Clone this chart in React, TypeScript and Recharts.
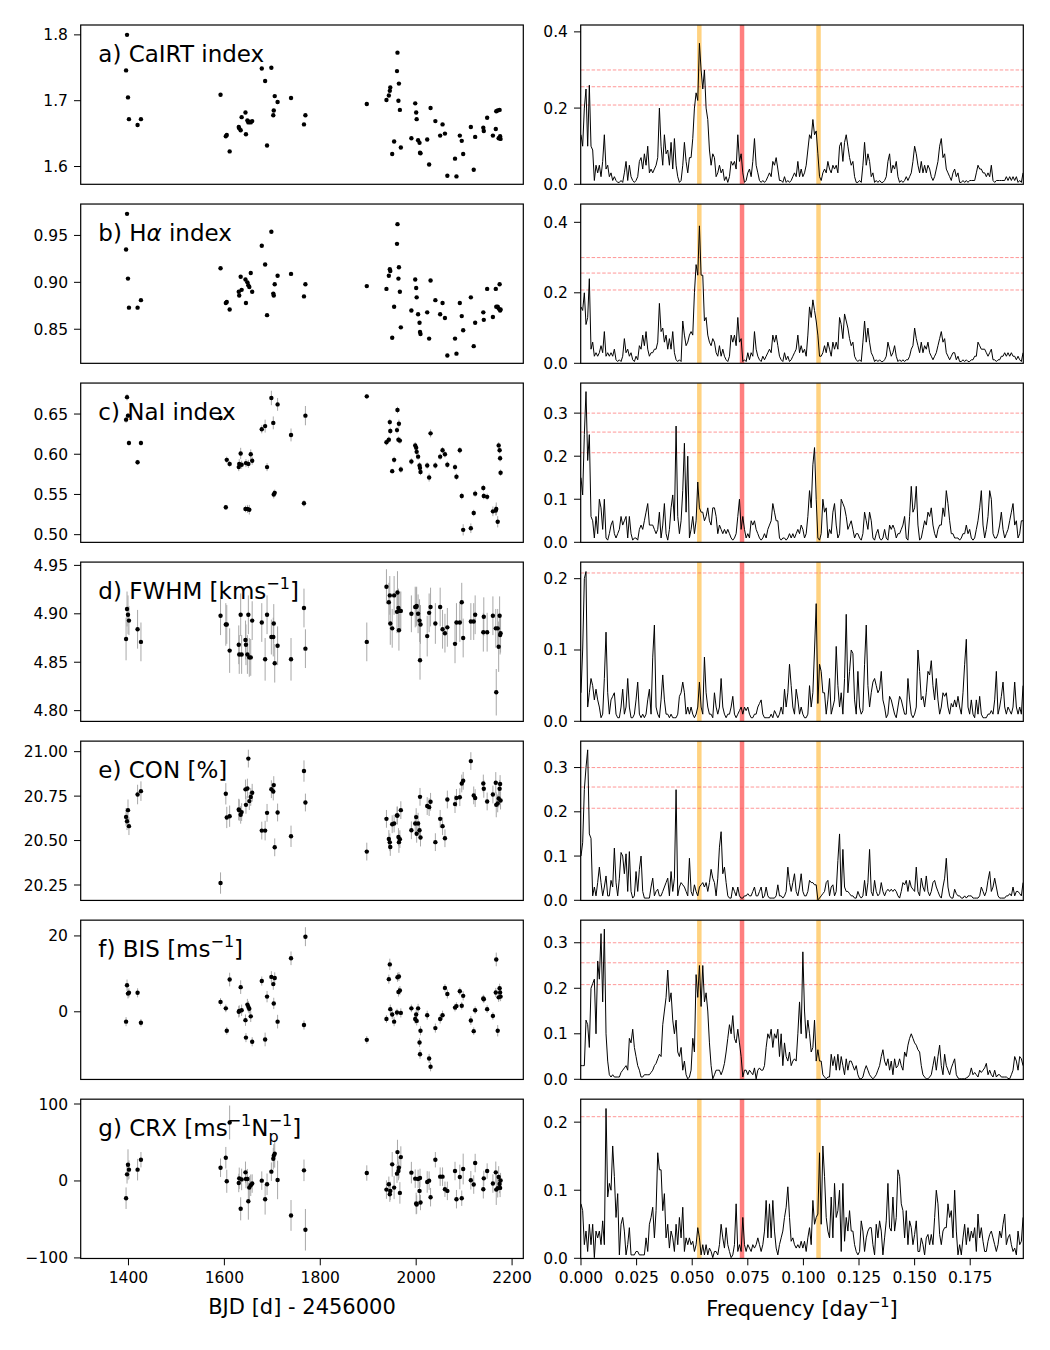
import React from 'react';
import { ScatterChart, Scatter, ErrorBar, LineChart, Line, XAxis, YAxis, ReferenceLine } from 'recharts';

// observation epochs, BJD - 2456000
const TIMES = [
  1395, 1397, 1399, 1401, 1419, 1426,
  1592, 1603, 1605, 1611, 1630, 1631, 1634, 1636, 1644, 1645, 1648, 1650, 1652, 1655, 1658, 1678, 1685, 1689, 1698, 1702,
  1703, 1705, 1711, 1739, 1766, 1769,
  1897, 1938, 1943, 1945, 1946, 1950, 1954, 1960, 1961, 1963, 1964, 1966, 1968, 1990, 1998, 2000, 2001, 2004, 2007, 2008,
  2009, 2023, 2027, 2030, 2040, 2050, 2055, 2060, 2065, 2081, 2084, 2091, 2095, 2098, 2114, 2120, 2123, 2140, 2141, 2148,
  2160, 2166, 2167, 2170, 2172, 2174, 2175, 2176,
];

const CAIRT = [
  1.746, 1.8, 1.705, 1.672, 1.663, 1.672,
  1.709, 1.646, 1.648, 1.623, 1.66, 1.658, 1.655, 1.675, 1.682, 1.649, 1.67, 1.667, 1.668, 1.667, 1.669, 1.749, 1.73, 1.632, 1.75, 1.678,
  1.685, 1.707, 1.698, 1.704, 1.664, 1.678,
  1.695, 1.701, 1.708, 1.715, 1.72, 1.619, 1.638, 1.745, 1.773, 1.7, 1.726, 1.686, 1.629, 1.643, 1.696, 1.682, 1.672, 1.64, 1.636, 1.621,
  1.62, 1.641, 1.603, 1.689, 1.669, 1.647, 1.664, 1.65, 1.586, 1.612, 1.585, 1.647, 1.639, 1.619, 1.66, 1.595, 1.645, 1.659, 1.654, 1.674,
  1.647, 1.657, 1.684, 1.685, 1.643, 1.686, 1.646, 1.642,
];

const HALPHA = [
  0.935, 0.973, 0.904, 0.873, 0.873, 0.881,
  0.915, 0.878, 0.879, 0.871, 0.89, 0.886, 0.906, 0.892, 0.903, 0.878, 0.9, 0.897, 0.895, 0.91, 0.89, 0.939, 0.919, 0.865, 0.954, 0.888,
  0.886, 0.898, 0.907, 0.909, 0.885, 0.898,
  0.896, 0.893, 0.907, 0.914, 0.912, 0.841, 0.874, 0.941, 0.962, 0.904, 0.916, 0.89, 0.852, 0.87, 0.903, 0.894, 0.884, 0.866, 0.857, 0.847,
  0.845, 0.868, 0.84, 0.902, 0.881, 0.866, 0.878, 0.862, 0.822, 0.84, 0.824, 0.878, 0.864, 0.849, 0.884, 0.832, 0.857, 0.868, 0.86, 0.893,
  0.863, 0.893, 0.874, 0.874, 0.872, 0.898, 0.87, 0.871,
];

const NAI = [
  0.643, 0.671, 0.648, 0.614, 0.59, 0.614,
  0.645, 0.534, 0.593, 0.588, 0.584, 0.588, 0.601, 0.587, 0.532, 0.589, 0.532, 0.588, 0.531, 0.6, 0.592, 0.631, 0.635, 0.584, 0.67, 0.639,
  0.55, 0.552, 0.662, 0.624, 0.539, 0.648,
  0.672, 0.615, 0.618, 0.64, 0.629, 0.579, 0.593, 0.63, 0.655, 0.618, 0.638, 0.617, 0.581, 0.591, 0.611, 0.608, 0.603, 0.597, 0.586, 0.583,
  0.578, 0.586, 0.571, 0.626, 0.586, 0.597, 0.605, 0.6, 0.587, 0.584, 0.572, 0.605, 0.548, 0.506, 0.508, 0.527, 0.551, 0.558, 0.548, 0.547,
  0.529, 0.53, 0.532, 0.516, 0.611, 0.605, 0.595, 0.577,
];
const NAI_ERR = [
  0.004, 0.004, 0.003, 0.003, 0.003, 0.003,
  0.003, 0.003, 0.004, 0.004, 0.005, 0.006, 0.007, 0.005, 0.004, 0.005, 0.005, 0.005, 0.006, 0.006, 0.005, 0.005, 0.008, 0.005, 0.009, 0.008,
  0.005, 0.004, 0.008, 0.008, 0.004, 0.012,
  0.003, 0.004, 0.004, 0.004, 0.004, 0.003, 0.004, 0.004, 0.004, 0.004, 0.005, 0.004, 0.004, 0.004, 0.004, 0.004, 0.004, 0.004, 0.004, 0.004,
  0.004, 0.004, 0.005, 0.005, 0.004, 0.004, 0.004, 0.004, 0.004, 0.004, 0.004, 0.004, 0.004, 0.007, 0.006, 0.004, 0.004, 0.004, 0.004, 0.004,
  0.006, 0.006, 0.008, 0.007, 0.004, 0.004, 0.004, 0.004,
];

const FWHM = [
  4.874, 4.905, 4.899, 4.893, 4.884, 4.871,
  4.898, 4.889, 4.889, 4.862, 4.868, 4.858, 4.899, 4.858, 4.873, 4.868, 4.858, 4.899, 4.855, 4.855, 4.893, 4.891, 4.853, 4.899, 4.876, 4.876,
  4.89, 4.849, 4.867, 4.853, 4.906, 4.864,
  4.871, 4.928, 4.912, 4.919, 4.89, 4.885, 4.919, 4.902, 4.922, 4.906, 4.883, 4.903, 4.903, 4.9, 4.907, 4.907, 4.908, 4.9, 4.893, 4.852,
  4.889, 4.877, 4.901, 4.907, 4.89, 4.907, 4.884, 4.88, 4.886, 4.869, 4.891, 4.891, 4.912, 4.875, 4.892, 4.892, 4.899, 4.881, 4.897, 4.881,
  4.898, 4.885, 4.819, 4.885, 4.866, 4.898, 4.878, 4.88,
];
const FWHM_ERR = [
  0.022, 0.018, 0.02, 0.015, 0.02, 0.02,
  0.02, 0.022, 0.02, 0.023, 0.02, 0.02, 0.022, 0.02, 0.02, 0.021, 0.02, 0.02, 0.02, 0.019, 0.02, 0.02, 0.022, 0.02, 0.018, 0.02,
  0.02, 0.02, 0.02, 0.022, 0.02, 0.02,
  0.02, 0.018, 0.02, 0.02, 0.022, 0.02, 0.02, 0.022, 0.022, 0.02, 0.021, 0.02, 0.02, 0.019, 0.021, 0.02, 0.02, 0.02, 0.022, 0.02,
  0.02, 0.021, 0.02, 0.02, 0.021, 0.02, 0.02, 0.02, 0.02, 0.02, 0.02, 0.02, 0.02, 0.02, 0.019, 0.019, 0.02, 0.02, 0.02, 0.02,
  0.02, 0.02, 0.024, 0.02, 0.026, 0.02, 0.02, 0.02,
];

const CON = [
  20.633, 20.609, 20.671, 20.581, 20.759, 20.778,
  20.261, 20.763, 20.63, 20.637, 20.675, 20.671, 20.645, 20.66, 20.788, 20.701, 20.793, 20.961, 20.722, 20.745, 20.769, 20.556, 20.556, 20.656, 20.789, 20.776,
  20.812, 20.462, 20.658, 20.524, 20.891, 20.714,
  20.438, 20.622, 20.509, 20.49, 20.464, 20.592, 20.596, 20.641, 20.641, 20.52, 20.491, 20.508, 20.671, 20.558, 20.596, 20.632, 20.538, 20.596, 20.558, 20.746,
  20.517, 20.694, 20.688, 20.718, 20.491, 20.622, 20.581, 20.513, 20.731, 20.705, 20.74, 20.744, 20.821, 20.836, 20.947, 20.754, 20.739, 20.821, 20.791, 20.72,
  20.759, 20.825, 20.701, 20.709, 20.737, 20.791, 20.818, 20.725,
];
const CON_ERR = [
  0.05, 0.05, 0.06, 0.05, 0.055, 0.055,
  0.06, 0.06, 0.06, 0.06, 0.06, 0.06, 0.05, 0.05, 0.055, 0.05, 0.055, 0.05, 0.05, 0.05, 0.05, 0.05, 0.055, 0.05, 0.05, 0.05,
  0.05, 0.05, 0.05, 0.06, 0.06, 0.05,
  0.05, 0.05, 0.05, 0.05, 0.05, 0.05, 0.05, 0.05, 0.05, 0.05, 0.06, 0.05, 0.05, 0.05, 0.05, 0.05, 0.05, 0.06, 0.05, 0.05,
  0.05, 0.05, 0.05, 0.05, 0.05, 0.05, 0.05, 0.05, 0.05, 0.05, 0.05, 0.05, 0.05, 0.05, 0.05, 0.05, 0.05, 0.05, 0.05, 0.05,
  0.05, 0.06, 0.07, 0.05, 0.05, 0.05, 0.05, 0.05,
];

const BIS = [
  -2.6, 7.0, 4.8, 5.0, 5.0, -2.9,
  2.6, 0.9, -5.0, 8.5, 0, 0.2, 6.5, 0.4, -2.2, -6.8, 1.9, 1.3, 0.8, -1.2, -7.9, 8.1, -7.3, 4.0, 9.2, 7.3,
  2.2, 8.9, -2.6, 14.1, -3.5, 19.8,
  -7.4, -1.9, 8.6, 12.5, 0.7, -0.7, -2.6, -0.2, 9.1, 5.2, 9.3, 5.6, -0.3, 0.9, -1.9, -0.7, -2.4, 0.9, -8.1, -11.2,
  -5.0, -0.9, -12.3, -14.5, -4.3, -1.9, -0.9, 6.3, 4.7, 1.1, 1.5, 5.4, 1.6, 4.2, -2.3, -5.1, 0.4, 3.5, 3.3, 0.7,
  -1.1, 5.1, 13.8, -5.0, 3.8, 6.2, 5.1, 4.0,
];
const BIS_ERR = [
  1.2, 1.5, 1.3, 1.2, 1.2, 1.0,
  1.0, 1.0, 1.0, 1.8, 1.5, 1.5, 1.8, 1.5, 1.5, 1.2, 1.5, 1.5, 1.3, 1.5, 1.2, 1.2, 1.8, 1.5, 1.5, 1.5,
  1.5, 1.5, 1.8, 1.8, 1.2, 2.5,
  1.0, 1.0, 1.2, 1.5, 1.2, 1.2, 1.2, 1.0, 1.2, 1.2, 1.2, 1.2, 1.2, 1.0, 1.2, 1.2, 1.2, 1.2, 1.2, 1.2,
  1.2, 1.2, 1.2, 1.2, 1.2, 1.2, 1.2, 1.0, 1.2, 1.0, 1.0, 1.0, 1.0, 1.2, 1.2, 1.0, 1.0, 1.0, 1.0, 1.0,
  1.0, 1.2, 1.8, 1.5, 1.2, 1.2, 1.2, 1.2,
];

const CRX = [
  -22.4, 8.6, 21.1, 14.7, 14.7, 27.6,
  17.2, 30.2, -0.4, 76, -2.6, 3.4, -36.2, 2.0, 11.2, 2.6, 2.6, -26.3, -8.6, -5.6, -3.4, 0.4, -23.7, -4.3, 12.1, 28.9,
  32.8, 35.3, 1.3, -44.8, 13.8, -63.4,
  10.3, -11.2, -4.3, -17.2, -12.9, 21.6, -8.6, 9.5, 37.5, 12.9, 17.2, -15.5, 31.0, 10.8, 3.0, -29.3, -30.6, 2.6, -12.9, 3.9,
  -28.0, -1.3, 0.4, -21.1, 27.6, 5.6, 5.6, -10.8, -12.9, 12.9, -23.7, 5.2, -22.4, 15.5, 0.9, -4.7, 23.3, -10.8, 3.4, 12.9,
  -3.4, 11.2, -11.2, -9.5, 5.2, -3.9, -9.0, 0.5,
];
const CRX_ERR = [
  14, 12, 20, 12, 14, 10,
  12, 14, 15, 22, 12, 14, 15, 14, 14, 12, 13, 24, 15, 14, 12, 12, 20, 14, 12, 14,
  15, 18, 25, 20, 14, 27,
  10, 12, 10, 10, 12, 16, 15, 12, 16, 12, 14, 14, 14, 14, 12, 14, 12, 12, 12, 12,
  10, 14, 12, 12, 10, 12, 12, 10, 12, 12, 12, 16, 10, 20, 12, 12, 12, 12, 10, 10,
  12, 14, 20, 12, 14, 12, 12, 10,
];

// GLS power on a uniform frequency grid starting at 0 (one row = 0.015 day^-1)
const FREQ_STEP = 0.00075;

const PG_CAIRT = [
  0.13, 0.1, 0.2, 0.25, 0.1, 0.26, 0.1, 0.09, 0.01, 0.05, 0.03, 0.05, 0.02, 0.06, 0.13, 0.04, 0.05, 0.02, 0.03, 0.01,
  0.02, 0.01, 0.005, 0.005, 0.01, 0.005, 0.03, 0.06, 0.01, 0.05, 0.02, 0.01, 0.005, 0.01, 0.02, 0.06, 0.07, 0.04, 0.08, 0.05,
  0.1, 0.03, 0.04, 0.03, 0.04, 0.05, 0.07, 0.2, 0.1, 0.05, 0.13, 0.08, 0.09, 0.05, 0.11, 0.04, 0.12, 0.05, 0.02, 0.005,
  0.01, 0.05, 0.11, 0.06, 0.03, 0.07, 0.07, 0.12, 0.2, 0.24, 0.22, 0.37, 0.3, 0.25, 0.3, 0.2, 0.17, 0.09, 0.05, 0.08,
  0.07, 0.02, 0.03, 0.05, 0.03, 0.04, 0.01, 0.02, 0.005, 0.02, 0.06, 0.05, 0.06, 0.04, 0.13, 0.06, 0.08, 0.03, 0.005, 0.01,
  0.03, 0.04, 0.02, 0.06, 0.12, 0.05, 0.03, 0.01, 0.005, 0.01, 0.005, 0.01, 0.02, 0.03, 0.02, 0.06, 0.05, 0.07, 0.04, 0.01,
  0.01, 0.005, 0.02, 0.005, 0.01, 0.005, 0.01, 0.02, 0.03, 0.02, 0.06, 0.02, 0.04, 0.02, 0.03, 0.05, 0.09, 0.13, 0.12, 0.17,
  0.13, 0.14, 0.08, 0.02, 0.01, 0.03, 0.04, 0.03, 0.06, 0.04, 0.03, 0.05, 0.04, 0.05, 0.03, 0.1, 0.11, 0.06, 0.11, 0.13,
  0.1, 0.07, 0.05, 0.06, 0.02, 0.005, 0.005, 0.01, 0.005, 0.05, 0.11, 0.05, 0.08, 0.06, 0.02, 0.03, 0.005, 0.01, 0.005, 0.01,
  0.005, 0.005, 0.01, 0.02, 0.06, 0.08, 0.03, 0.05, 0.04, 0.06, 0.02, 0.005, 0.01, 0.005, 0.01, 0.02, 0.01, 0.02, 0.03, 0.06,
  0.1, 0.08, 0.05, 0.03, 0.06, 0.03, 0.05, 0.03, 0.05, 0.04, 0.02, 0.01, 0.02, 0.04, 0.06, 0.1, 0.12, 0.07, 0.08, 0.04,
  0.03, 0.02, 0.01, 0.03, 0.04, 0.02, 0.03, 0.005, 0.005, 0.01, 0.005, 0.01, 0.005, 0.01, 0.01, 0.01, 0.01, 0.03, 0.05, 0.04,
  0.04, 0.03, 0.03, 0.02, 0.03, 0.02, 0.05, 0.01, 0.005, 0.01, 0.01, 0.01, 0.01, 0.01, 0.01, 0.02, 0.01, 0.02, 0.01, 0.02,
  0.01, 0.02, 0.005, 0.01, 0.005, 0.03,
];

const PG_HALPHA = [
  0.16, 0.15, 0.2, 0.11, 0.13, 0.24, 0.04, 0.06, 0.02, 0.03, 0.02, 0.03, 0.05, 0.03, 0.09, 0.02, 0.03, 0.02, 0.03, 0.02,
  0.04, 0.01, 0.005, 0.01, 0.005, 0.02, 0.07, 0.03, 0.04, 0.02, 0.03, 0.01, 0.005, 0.02, 0.01, 0.05, 0.04, 0.08, 0.05, 0.09,
  0.04, 0.02, 0.03, 0.03, 0.04, 0.04, 0.06, 0.17, 0.09, 0.1, 0.06, 0.08, 0.04, 0.07, 0.04, 0.09, 0.03, 0.01, 0.005, 0.01,
  0.005, 0.12, 0.08, 0.05, 0.06, 0.08, 0.09, 0.08, 0.2, 0.28, 0.25, 0.39, 0.25, 0.25, 0.12, 0.13, 0.08, 0.06, 0.05, 0.07,
  0.06, 0.03, 0.02, 0.05, 0.02, 0.04, 0.02, 0.01, 0.005, 0.02, 0.08, 0.06, 0.08, 0.05, 0.13, 0.06, 0.07, 0.005, 0.01, 0.005,
  0.03, 0.01, 0.03, 0.02, 0.09, 0.04, 0.02, 0.01, 0.005, 0.02, 0.01, 0.02, 0.03, 0.04, 0.03, 0.08, 0.06, 0.08, 0.05, 0.02,
  0.01, 0.005, 0.03, 0.01, 0.02, 0.005, 0.01, 0.02, 0.03, 0.04, 0.08, 0.03, 0.05, 0.03, 0.04, 0.02, 0.08, 0.16, 0.13, 0.18,
  0.15, 0.12, 0.08, 0.02, 0.02, 0.03, 0.05, 0.03, 0.06, 0.04, 0.02, 0.06, 0.04, 0.06, 0.04, 0.13, 0.11, 0.07, 0.14, 0.12,
  0.1, 0.07, 0.05, 0.06, 0.02, 0.01, 0.005, 0.01, 0.005, 0.06, 0.12, 0.06, 0.1, 0.06, 0.03, 0.02, 0.005, 0.01, 0.005, 0.01,
  0.005, 0.005, 0.01, 0.02, 0.06, 0.04, 0.02, 0.03, 0.05, 0.02, 0.005, 0.01, 0.005, 0.01, 0.005, 0.01, 0.01, 0.02, 0.04, 0.05,
  0.1, 0.07, 0.05, 0.03, 0.06, 0.03, 0.05, 0.04, 0.06, 0.03, 0.02, 0.01, 0.02, 0.03, 0.05, 0.07, 0.09, 0.06, 0.07, 0.03,
  0.02, 0.01, 0.02, 0.03, 0.03, 0.01, 0.02, 0.005, 0.005, 0.01, 0.005, 0.01, 0.005, 0.005, 0.01, 0.01, 0.02, 0.02, 0.06, 0.05,
  0.04, 0.04, 0.04, 0.03, 0.02, 0.03, 0.04, 0.01, 0.01, 0.005, 0.01, 0.01, 0.02, 0.02, 0.03, 0.02, 0.03, 0.02, 0.03, 0.02,
  0.02, 0.01, 0.02, 0.01, 0.005, 0.03,
];

const PG_NAI = [
  0.15, 0.11, 0.25, 0.35, 0.19, 0.25, 0.06, 0.05, 0.01, 0.06, 0.02, 0.1, 0.08, 0.03, 0.1, 0.01, 0.005, 0.02, 0.04, 0.05,
  0.02, 0.01, 0.02, 0.03, 0.06, 0.04, 0.05, 0.06, 0.01, 0.06, 0.02, 0.005, 0.01, 0.01, 0.005, 0.03, 0.04, 0.03, 0.05, 0.07,
  0.09, 0.04, 0.04, 0.04, 0.03, 0.02, 0.03, 0.07, 0.01, 0.04, 0.09, 0.02, 0.005, 0.03, 0.08, 0.11, 0.05, 0.27, 0.06, 0.02,
  0.05, 0.12, 0.23, 0.07, 0.2, 0.01, 0.03, 0.06, 0.02, 0.05, 0.14, 0.08, 0.07, 0.07, 0.05, 0.06, 0.08, 0.05, 0.04, 0.08,
  0.08, 0.06, 0.02, 0.04, 0.03, 0.02, 0.03, 0.02, 0.03, 0.02, 0.01, 0.005, 0.01, 0.02, 0.06, 0.1, 0.03, 0.06, 0.03, 0.01,
  0.02, 0.01, 0.05, 0.04, 0.05, 0.03, 0.02, 0.01, 0.005, 0.01, 0.02, 0.01, 0.03, 0.04, 0.05, 0.09, 0.07, 0.05, 0.05, 0.01,
  0.005, 0.01, 0.01, 0.005, 0.01, 0.02, 0.01, 0.02, 0.01, 0.02, 0.03, 0.02, 0.04, 0.03, 0.01, 0.02, 0.06, 0.12, 0.08, 0.18,
  0.22, 0.1, 0.01, 0.005, 0.02, 0.1, 0.07, 0.08, 0.01, 0.03, 0.02, 0.07, 0.09, 0.04, 0.01, 0.02, 0.1, 0.09, 0.08, 0.06,
  0.03, 0.04, 0.05, 0.03, 0.01, 0.02, 0.02, 0.01, 0.005, 0.02, 0.07, 0.05, 0.03, 0.07, 0.05, 0.01, 0.005, 0.02, 0.03, 0.01,
  0.005, 0.01, 0.03, 0.01, 0.005, 0.04, 0.03, 0.04, 0.03, 0.01, 0.02, 0.02, 0.03, 0.04, 0.06, 0.01, 0.005, 0.06, 0.13, 0.07,
  0.08, 0.13, 0.04, 0.005, 0.01, 0.03, 0.05, 0.04, 0.07, 0.06, 0.08, 0.04, 0.02, 0.01, 0.03, 0.04, 0.04, 0.08, 0.06, 0.12,
  0.09, 0.05, 0.02, 0.02, 0.01, 0.01, 0.01, 0.005, 0.01, 0.02, 0.02, 0.04, 0.02, 0.03, 0.01, 0.005, 0.01, 0.03, 0.05, 0.08,
  0.12, 0.04, 0.01, 0.03, 0.06, 0.12, 0.1, 0.02, 0.01, 0.01, 0.02, 0.04, 0.07, 0.03, 0.01, 0.02, 0.03, 0.05, 0.07, 0.09,
  0.04, 0.05, 0.01, 0.02, 0.05, 0.05,
];

const PG_FWHM = [
  0.04, 0.1, 0.2, 0.21, 0.02, 0.04, 0.06, 0.05, 0.03, 0.045, 0.03, 0.02, 0.005, 0.01, 0.06, 0.125, 0.04, 0.01, 0.03, 0.035,
  0.04, 0.01, 0.005, 0.005, 0.02, 0.045, 0.01, 0.02, 0.06, 0.02, 0.005, 0.005, 0.01, 0.03, 0.055, 0.01, 0.005, 0.01, 0.005, 0.01,
  0.03, 0.045, 0.01, 0.09, 0.135, 0.02, 0.01, 0.005, 0.03, 0.065, 0.03, 0.01, 0.01, 0.005, 0.01, 0.005, 0.005, 0.005, 0.01, 0.035,
  0.04, 0.055, 0.04, 0.01, 0.02, 0.01, 0.02, 0.01, 0.005, 0.01, 0.02, 0.055, 0.02, 0.01, 0.09, 0.04, 0.02, 0.01, 0.01, 0.005,
  0.04, 0.02, 0.01, 0.02, 0.06, 0.02, 0.01, 0.005, 0.01, 0.01, 0.02, 0.035, 0.01, 0.005, 0.01, 0.015, 0.02, 0.01, 0.02, 0.015,
  0.02, 0.01, 0.005, 0.005, 0.01, 0.01, 0.02, 0.025, 0.03, 0.01, 0.005, 0.005, 0.005, 0.005, 0.01, 0.005, 0.015, 0.01, 0.005, 0.01,
  0.02, 0.01, 0.045, 0.02, 0.04, 0.08, 0.05, 0.02, 0.01, 0.045, 0.03, 0.01, 0.02, 0.01, 0.005, 0.005, 0.01, 0.05, 0.02, 0.04,
  0.1, 0.165, 0.025, 0.08, 0.07, 0.04, 0.04, 0.01, 0.03, 0.06, 0.01, 0.02, 0.03, 0.105, 0.05, 0.02, 0.04, 0.01, 0.06, 0.15,
  0.04, 0.07, 0.1, 0.095, 0.03, 0.01, 0.07, 0.02, 0.01, 0.015, 0.08, 0.135, 0.05, 0.02, 0.04, 0.055, 0.06, 0.05, 0.04, 0.045,
  0.07, 0.03, 0.02, 0.005, 0.01, 0.035, 0.03, 0.02, 0.01, 0.005, 0.02, 0.035, 0.03, 0.02, 0.01, 0.01, 0.06, 0.03, 0.01, 0.005,
  0.01, 0.02, 0.1, 0.07, 0.03, 0.035, 0.02, 0.04, 0.07, 0.065, 0.085, 0.05, 0.03, 0.06, 0.03, 0.01, 0.02, 0.04, 0.035, 0.04,
  0.02, 0.01, 0.025, 0.02, 0.03, 0.02, 0.035, 0.02, 0.01, 0.04, 0.08, 0.115, 0.02, 0.01, 0.03, 0.01, 0.005, 0.03, 0.01, 0.035,
  0.01, 0.005, 0.005, 0.005, 0.01, 0.01, 0.015, 0.01, 0.03, 0.07, 0.01, 0.02, 0.035, 0.055, 0.02, 0.01, 0.02, 0.015, 0.01, 0.02,
  0.055, 0.02, 0.01, 0.02, 0.01, 0.05,
];

const PG_CON = [
  0.1, 0.13, 0.25, 0.3, 0.34, 0.15, 0.14, 0.01, 0.03, 0.01, 0.04, 0.075, 0.04, 0.01, 0.03, 0.055, 0.01, 0.01, 0.045, 0.03,
  0.118, 0.04, 0.01, 0.05, 0.108, 0.1, 0.06, 0.105, 0.02, 0.11, 0.02, 0.005, 0.01, 0.065, 0.02, 0.07, 0.1, 0.02, 0.005, 0.005,
  0.005, 0.005, 0.03, 0.05, 0.01, 0.02, 0.025, 0.01, 0.01, 0.02, 0.03, 0.04, 0.05, 0.01, 0.065, 0.02, 0.05, 0.25, 0.01, 0.03,
  0.04, 0.035, 0.03, 0.02, 0.01, 0.095, 0.02, 0.01, 0.035, 0.02, 0.01, 0.03, 0.035, 0.04, 0.03, 0.04, 0.02, 0.04, 0.07, 0.05,
  0.04, 0.01, 0.05, 0.12, 0.155, 0.06, 0.075, 0.04, 0.01, 0.005, 0.005, 0.03, 0.02, 0.01, 0.03, 0.01, 0.005, 0.005, 0.01, 0.01,
  0.015, 0.01, 0.01, 0.02, 0.03, 0.01, 0.01, 0.02, 0.03, 0.005, 0.01, 0.03, 0.01, 0.005, 0.005, 0.005, 0.005, 0.01, 0.035, 0.01,
  0.01, 0.005, 0.01, 0.02, 0.075, 0.04, 0.02, 0.04, 0.06, 0.02, 0.01, 0.03, 0.06, 0.02, 0.01, 0.01, 0.02, 0.045, 0.04, 0.04,
  0.035, 0.035, 0.001, 0.005, 0.01, 0.015, 0.02, 0.04, 0.045, 0.01, 0.03, 0.035, 0.01, 0.02, 0.09, 0.15, 0.01, 0.115, 0.03, 0.02,
  0.02, 0.015, 0.01, 0.01, 0.005, 0.005, 0.02, 0.01, 0.005, 0.01, 0.045, 0.01, 0.04, 0.115, 0.02, 0.01, 0.045, 0.02, 0.01, 0.015,
  0.04, 0.02, 0.01, 0.02, 0.025, 0.02, 0.025, 0.02, 0.025, 0.02, 0.01, 0.005, 0.02, 0.04, 0.035, 0.045, 0.02, 0.045, 0.03, 0.025,
  0.02, 0.075, 0.02, 0.01, 0.05, 0.03, 0.02, 0.055, 0.02, 0.01, 0.02, 0.04, 0.045, 0.03, 0.02, 0.01, 0.005, 0.03, 0.05, 0.095,
  0.03, 0.01, 0.005, 0.005, 0.025, 0.015, 0.01, 0.01, 0.005, 0.005, 0.01, 0.005, 0.01, 0.01, 0.01, 0.005, 0.005, 0.005, 0.005, 0.01,
  0.03, 0.02, 0.01, 0.02, 0.045, 0.065, 0.02, 0.03, 0.05, 0.03, 0.01, 0.005, 0.005, 0.005, 0.005, 0.01, 0.01, 0.015, 0.01, 0.03,
  0.01, 0.02, 0.02, 0.015, 0.01, 0.04,
];

const PG_BIS = [
  0.03, 0.03, 0.03, 0.13, 0.12, 0.07, 0.2, 0.21, 0.22, 0.1, 0.26, 0.22, 0.32, 0.17, 0.33, 0.1, 0.04, 0.01, 0.005, 0.01,
  0.005, 0.005, 0.005, 0.005, 0.015, 0.02, 0.025, 0.03, 0.02, 0.09, 0.08, 0.11, 0.07, 0.05, 0.03, 0.02, 0.005, 0.005, 0.01, 0.01,
  0.01, 0.01, 0.015, 0.02, 0.03, 0.035, 0.045, 0.055, 0.05, 0.12, 0.15, 0.18, 0.24, 0.17, 0.19, 0.13, 0.1, 0.13, 0.06, 0.05,
  0.07, 0.02, 0.04, 0.01, 0.001, 0.005, 0.02, 0.09, 0.06, 0.23, 0.18, 0.25, 0.16, 0.25, 0.17, 0.19, 0.15, 0.08, 0.03, 0.001,
  0.01, 0.02, 0.02, 0.02, 0.01, 0.02, 0.035, 0.06, 0.09, 0.12, 0.1, 0.14, 0.09, 0.08, 0.11, 0.08, 0.05, 0.005, 0.02, 0.02,
  0.01, 0.02, 0.015, 0.01, 0.025, 0.001, 0.02, 0.025, 0.02, 0.02, 0.03, 0.07, 0.1, 0.09, 0.11, 0.07, 0.1, 0.09, 0.11, 0.05,
  0.1, 0.03, 0.08, 0.05, 0.04, 0.06, 0.03, 0.04, 0.045, 0.04, 0.1, 0.17, 0.1, 0.28, 0.15, 0.09, 0.13, 0.1, 0.06, 0.07,
  0.13, 0.04, 0.065, 0.04, 0.04, 0.01, 0.005, 0.001, 0.005, 0.005, 0.055, 0.03, 0.05, 0.02, 0.055, 0.02, 0.05, 0.03, 0.01, 0.045,
  0.02, 0.04, 0.04, 0.03, 0.02, 0.03, 0.01, 0.001, 0.001, 0.005, 0.02, 0.03, 0.02, 0.01, 0.005, 0.001, 0.005, 0.01, 0.02, 0.03,
  0.05, 0.065, 0.04, 0.03, 0.045, 0.02, 0.04, 0.01, 0.045, 0.025, 0.03, 0.045, 0.03, 0.02, 0.06, 0.05, 0.075, 0.09, 0.1, 0.09,
  0.08, 0.075, 0.065, 0.06, 0.03, 0.01, 0.005, 0.001, 0.001, 0.005, 0.01, 0.03, 0.05, 0.02, 0.05, 0.075, 0.03, 0.01, 0.055, 0.03,
  0.02, 0.01, 0.025, 0.035, 0.045, 0.01, 0.003, 0.001, 0.001, 0.001, 0.001, 0.003, 0.005, 0.01, 0.025, 0.01, 0.015, 0.01, 0.005, 0.02,
  0.015, 0.02, 0.025, 0.035, 0.01, 0.02, 0.01, 0.005, 0.02, 0.005, 0.01, 0.01, 0.005, 0.005, 0.005, 0.005, 0.002, 0.001, 0.01, 0.02,
  0.05, 0.04, 0.02, 0.05, 0.045, 0.03,
];

const PG_CRX = [
  0.08, 0.07, 0.02, 0.04, 0.01, 0.05, 0.02, 0.05, 0.001, 0.04, 0.03, 0.04, 0.02, 0.055, 0.02, 0.22, 0.09, 0.11, 0.1, 0.165,
  0.12, 0.06, 0.095, 0.005, 0.05, 0.06, 0.04, 0.005, 0.02, 0.045, 0.005, 0.005, 0.005, 0.01, 0.01, 0.005, 0.005, 0.005, 0.005, 0.03,
  0.01, 0.05, 0.06, 0.075, 0.03, 0.07, 0.155, 0.13, 0.13, 0.07, 0.095, 0.03, 0.05, 0.015, 0.04, 0.03, 0.01, 0.05, 0.02, 0.06,
  0.03, 0.075, 0.01, 0.03, 0.02, 0.03, 0.02, 0.025, 0.01, 0.02, 0.045, 0.03, 0.005, 0.02, 0.005, 0.02, 0.005, 0.015, 0.01, 0.001,
  0.01, 0.01, 0.005, 0.02, 0.05, 0.03, 0.015, 0.045, 0.02, 0.01, 0.001, 0.005, 0.02, 0.08, 0.01, 0.02, 0.01, 0.06, 0.02, 0.01,
  0.02, 0.015, 0.01, 0.02, 0.015, 0.02, 0.03, 0.02, 0.01, 0.02, 0.04, 0.085, 0.03, 0.08, 0.03, 0.085, 0.04, 0.015, 0.005, 0.02,
  0.03, 0.04, 0.06, 0.075, 0.105, 0.06, 0.025, 0.03, 0.02, 0.015, 0.02, 0.015, 0.025, 0.015, 0.025, 0.01, 0.03, 0.045, 0.02, 0.085,
  0.05, 0.06, 0.065, 0.155, 0.05, 0.165, 0.12, 0.06, 0.04, 0.03, 0.09, 0.03, 0.11, 0.06, 0.07, 0.1, 0.01, 0.11, 0.025, 0.06,
  0.04, 0.07, 0.04, 0.04, 0.02, 0.01, 0.005, 0.01, 0.055, 0.04, 0.01, 0.03, 0.04, 0.045, 0.045, 0.02, 0.005, 0.05, 0.03, 0.055,
  0.04, 0.005, 0.03, 0.055, 0.11, 0.045, 0.04, 0.09, 0.04, 0.06, 0.13, 0.12, 0.08, 0.07, 0.03, 0.07, 0.02, 0.055, 0.045, 0.02,
  0.035, 0.055, 0.01, 0.01, 0.03, 0.02, 0.005, 0.03, 0.035, 0.02, 0.035, 0.02, 0.06, 0.1, 0.08, 0.035, 0.02, 0.04, 0.045, 0.045,
  0.08, 0.06, 0.07, 0.03, 0.1, 0.04, 0.005, 0.02, 0.005, 0.03, 0.05, 0.02, 0.045, 0.025, 0.04, 0.03, 0.045, 0.01, 0.065, 0.03,
  0.045, 0.025, 0.01, 0.01, 0.025, 0.035, 0.04, 0.03, 0.02, 0.01, 0.02, 0.04, 0.03, 0.05, 0.065, 0.02, 0.03, 0.035, 0.02, 0.01,
  0.015, 0.005, 0.04, 0.02, 0.025, 0.06,
];

// false-alarm-probability levels (10%, 1%, 0.1%)
const FAP_LEVELS = [0.208, 0.256, 0.3];
// marked frequencies: rotation harmonics (orange) and planet (red)
const MARKED = [
  { f: 0.0532, color: '#ffd280' },
  { f: 0.0724, color: '#ff7f7f' },
  { f: 0.1068, color: '#ffd280' },
];

const BJD_TICKS = [1400, 1600, 1800, 2000, 2200];
const FREQ_TICKS = [0, 0.025, 0.05, 0.075, 0.1, 0.125, 0.15, 0.175];

// layout
const LEFT_X = 80.7;
const RIGHT_X = 580.7;
const PLOT_W = 442.6;
const PLOT_H = 159.3;
const TOP0 = 25;
const ROW_STEP = 179.03;
const Y_W = 70;
const PAD_T = 10;
const PAD_R = 30;
const PAD_B = 10;
const FONT = 'DejaVu Sans';
const TICK_STYLE = { fill: '#000', fontSize: 15.5, fontFamily: FONT };

const fmt = (digits: number) => (v: number) =>
  (v < 0 ? '\u2212' : '') + Math.abs(v).toFixed(digits);

const SUP = { fontSize: 16 };

const PANELS = [
  {
    label: <>a) CaIRT index</>,
    values: CAIRT, err: null as number[] | null,
    domain: [1.573, 1.815], ticks: [1.6, 1.7, 1.8], digits: 1,
    pg: PG_CAIRT, pgTop: 0.418, pgTicks: [0, 0.2, 0.4],
  },
  {
    label: <>b) H<tspan fontStyle="italic">α</tspan> index</>,
    values: HALPHA, err: null,
    domain: [0.8137, 0.9835], ticks: [0.85, 0.9, 0.95], digits: 2,
    pg: PG_HALPHA, pgTop: 0.452, pgTicks: [0, 0.2, 0.4],
  },
  {
    label: <>c) NaI index</>,
    values: NAI, err: NAI_ERR,
    domain: [0.4905, 0.6886], ticks: [0.5, 0.55, 0.6, 0.65], digits: 2,
    pg: PG_NAI, pgTop: 0.37, pgTicks: [0, 0.1, 0.2, 0.3],
  },
  {
    label: <>d) FWHM [kms<tspan dy={-10} {...SUP}>−1</tspan><tspan dy={10}>]</tspan></>,
    values: FWHM, err: FWHM_ERR,
    domain: [4.789, 4.9535], ticks: [4.8, 4.85, 4.9, 4.95], digits: 2,
    pg: PG_FWHM, pgTop: 0.2234, pgTicks: [0, 0.1, 0.2],
  },
  {
    label: <>e) CON [%]</>,
    values: CON, err: CON_ERR,
    domain: [20.164, 21.06], ticks: [20.25, 20.5, 20.75, 21], digits: 2,
    pg: PG_CON, pgTop: 0.36, pgTicks: [0, 0.1, 0.2, 0.3],
  },
  {
    label: <>f) BIS [ms<tspan dy={-10} {...SUP}>−1</tspan><tspan dy={10}>]</tspan></>,
    values: BIS, err: BIS_ERR,
    domain: [-17.8, 24.2], ticks: [0, 20], digits: 0,
    pg: PG_BIS, pgTop: 0.35, pgTicks: [0, 0.1, 0.2, 0.3],
  },
  {
    label: (
      <>
        g) CRX [ms<tspan dy={-10} {...SUP}>−1</tspan>
        <tspan dy={10}>N</tspan>
        <tspan dy={6} {...SUP}>p</tspan>
        <tspan dx={-10} dy={-16} {...SUP}>−1</tspan>
        <tspan dy={10}>]</tspan>
      </>
    ),
    values: CRX, err: CRX_ERR,
    domain: [-100.5, 106.5], ticks: [-100, 0, 100], digits: 0,
    pg: PG_CRX, pgTop: 0.234, pgTicks: [0, 0.1, 0.2],
  },
];

const rowTop = (row: number) => TOP0 + row * ROW_STEP;

const Dot = (p: any) => <circle cx={p.cx} cy={p.cy} r={2.2} fill="#000" />;

function chartBox(row: number) {
  const last = row === PANELS.length - 1;
  const xh = last ? 34 : 8;
  return {
    last,
    xh,
    width: Y_W + PLOT_W + PAD_R,
    height: PAD_T + PLOT_H + xh + PAD_B,
    margin: { top: PAD_T, right: PAD_R, bottom: PAD_B, left: 0 },
  };
}

function TimeSeries({ row }: { row: number }) {
  const panel = PANELS[row];
  const box = chartBox(row);
  const data = TIMES.map((t, i) => ({ t, v: panel.values[i], e: panel.err ? panel.err[i] : 0 }));
  return (
    <div style={{ position: 'absolute', left: LEFT_X - Y_W, top: rowTop(row) - PAD_T }}>
      <ScatterChart width={box.width} height={box.height} margin={box.margin}>
        <XAxis
          dataKey="t" type="number" domain={[1301, 2224]} ticks={BJD_TICKS} interval={0}
          allowDataOverflow height={box.xh} axisLine={false}
          tickSize={7} tickMargin={7} tickLine={{ stroke: '#000' }}
          tick={box.last ? TICK_STYLE : false}
        />
        <YAxis
          dataKey="v" type="number" domain={panel.domain} ticks={panel.ticks} interval={0}
          allowDataOverflow width={Y_W} axisLine={false}
          tickSize={7} tickMargin={6} tickLine={{ stroke: '#000' }}
          tick={TICK_STYLE} tickFormatter={fmt(panel.digits)}
        />
        <Scatter data={data} shape={Dot} isAnimationActive={false}>
          {panel.err && (
            <ErrorBar dataKey="e" direction="y" width={0} stroke="#a8a8a8" strokeWidth={1} />
          )}
        </Scatter>
      </ScatterChart>
    </div>
  );
}

function Periodogram({ row }: { row: number }) {
  const panel = PANELS[row];
  const box = chartBox(row);
  const data = panel.pg.map((p, i) => ({ f: i * FREQ_STEP, p }));
  return (
    <div style={{ position: 'absolute', left: RIGHT_X - Y_W, top: rowTop(row) - PAD_T }}>
      <LineChart width={box.width} height={box.height} margin={box.margin} data={data}>
        <XAxis
          dataKey="f" type="number" domain={[0, 0.199]} ticks={FREQ_TICKS} interval={0}
          allowDataOverflow height={box.xh} axisLine={false}
          tickSize={7} tickMargin={7} tickLine={{ stroke: '#000' }}
          tick={box.last ? TICK_STYLE : false} tickFormatter={fmt(3)}
        />
        <YAxis
          type="number" domain={[0, panel.pgTop]} ticks={panel.pgTicks} interval={0}
          allowDataOverflow width={Y_W} axisLine={false}
          tickSize={7} tickMargin={6} tickLine={{ stroke: '#000' }}
          tick={TICK_STYLE} tickFormatter={fmt(1)}
        />
        {MARKED.map((m) => (
          <ReferenceLine key={m.f} x={m.f} stroke={m.color} strokeWidth={4.5} />
        ))}
        {FAP_LEVELS.map((y) => (
          <ReferenceLine key={y} y={y} stroke="#ff5a5a" strokeOpacity={0.7} strokeWidth={0.9} strokeDasharray="3.5 1.8" />
        ))}
        <Line dataKey="p" type="linear" stroke="#000" strokeWidth={1} dot={false} isAnimationActive={false} />
      </LineChart>
    </div>
  );
}

export default function App() {
  return (
    <div style={{ position: 'absolute', left: 0, top: 0, width: 1050, height: 1350, background: '#fff' }}>
      {PANELS.map((_, row) => (
        <React.Fragment key={row}>
          <TimeSeries row={row} />
          <Periodogram row={row} />
        </React.Fragment>
      ))}
      <svg
        width={1050} height={1350}
        style={{ position: 'absolute', left: 0, top: 0, pointerEvents: 'none' }}
        fontFamily={FONT}
      >
        {PANELS.map((panel, row) => (
          <g key={row}>
            <rect x={LEFT_X} y={rowTop(row)} width={PLOT_W} height={PLOT_H} fill="none" stroke="#000" strokeWidth={1.2} />
            <rect x={RIGHT_X} y={rowTop(row)} width={PLOT_W} height={PLOT_H} fill="none" stroke="#000" strokeWidth={1.2} />
            <text x={LEFT_X + 17.6} y={rowTop(row) + 37} fontSize={23} fill="#000">
              {panel.label}
            </text>
          </g>
        ))}
        <text x={LEFT_X + PLOT_W / 2} y={1314} fontSize={21} textAnchor="middle" fill="#000">
          BJD [d] - 2456000
        </text>
        <text x={RIGHT_X + PLOT_W / 2} y={1316} fontSize={21} textAnchor="middle" fill="#000">
          Frequency [day<tspan dy={-9} fontSize={14.5}>−1</tspan><tspan dy={9}>]</tspan>
        </text>
      </svg>
    </div>
  );
}
